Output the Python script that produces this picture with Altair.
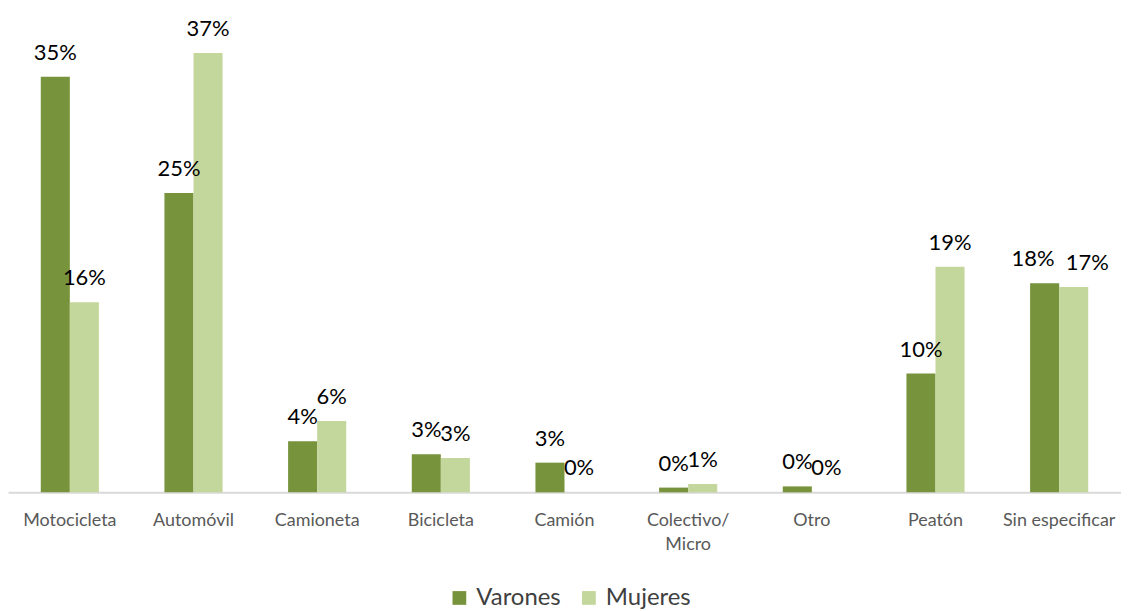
import altair as alt
import pandas as pd

categorias = ["Motocicleta", "Automóvil", "Camioneta", "Bicicleta", "Camión",
              "Colectivo/Micro", "Otro", "Peatón", "Sin especificar"]
varones = [35.0, 25.2, 4.3, 3.2, 2.5, 0.4, 0.5, 10.0, 17.6]
mujeres = [16.0, 37.0, 6.0, 2.9, 0.0, 0.7, 0.0, 19.0, 17.3]
etiq_varones = ["35%", "25%", "4%", "3%", "3%", "0%", "0%", "10%", "18%"]
etiq_mujeres = ["16%", "37%", "6%", "3%", "0%", "1%", "0%", "19%", "17%"]
series = ["Varones", "Mujeres"]
colores = ["#77933C", "#C3D69B"]

rows = []
for c, v, m, ev, em in zip(categorias, varones, mujeres, etiq_varones, etiq_mujeres):
    rows.append({"cat": c, "serie": "Varones", "valor": v, "etiqueta": ev})
    rows.append({"cat": c, "serie": "Mujeres", "valor": m, "etiqueta": em})
df = pd.DataFrame(rows)

x = alt.X("cat:N", sort=categorias, title=None,
          scale=alt.Scale(paddingInner=0.53, paddingOuter=0.265),
          axis=alt.Axis(labelAngle=0, labelFont="Lato", labelFontSize=18,
                        labelColor="#595959", labelPadding=19, ticks=False,
                        domainColor="#D9D9D9", domainWidth=2, labelLineHeight=24,
                        labelExpr="datum.label == 'Colectivo/Micro' ? ['Colectivo/', 'Micro'] : datum.label"))
y = alt.Y("valor:Q", scale=alt.Scale(domain=[0, 40.7], nice=False), axis=None, title=None)
xo = alt.XOffset("serie:N", sort=series, scale=alt.Scale(paddingInner=0, paddingOuter=0))

base = alt.Chart(df)

bars = base.mark_bar().encode(
    x=x, y=y, xOffset=xo,
    color=alt.Color("serie:N", sort=series,
                    scale=alt.Scale(domain=series, range=colores),
                    legend=alt.Legend(title=None, orient="none", direction="horizontal",
                                      legendX=441, legendY=579, symbolType="square",
                                      symbolSize=190, symbolOpacity=1,
                                      labelFont="Lato", labelFontSize=24,
                                      labelColor="#404040", columnPadding=16,
                                      labelOffset=5, symbolStrokeWidth=0))
)

tstyle = dict(baseline="bottom", dy=-12, font="Lato", fontSize=22, color="#000000")
crowded = "datum.cat == 'Sin especificar'"

text_main = base.transform_filter("!(" + crowded + ")").mark_text(**tstyle).encode(
    x=x, y=y, xOffset=xo, text="etiqueta:N")
text_v = base.transform_filter(crowded + " && datum.serie == 'Varones'").mark_text(
    align="right", dx=10, **tstyle).encode(x=x, y=y, xOffset=xo, text="etiqueta:N")
text_m = base.transform_filter(crowded + " && datum.serie == 'Mujeres'").mark_text(
    align="left", dx=-8, **tstyle).encode(x=x, y=y, xOffset=xo, text="etiqueta:N")

chart = (bars + text_main + text_v + text_m).properties(
    width=1117, height=485,
    padding={"left": 0, "top": 0, "right": 0, "bottom": 0}
).configure_view(stroke=None).configure_axis(grid=False)

chart.save("out.html", embed_options={"renderer": "svg", "actions": False})
